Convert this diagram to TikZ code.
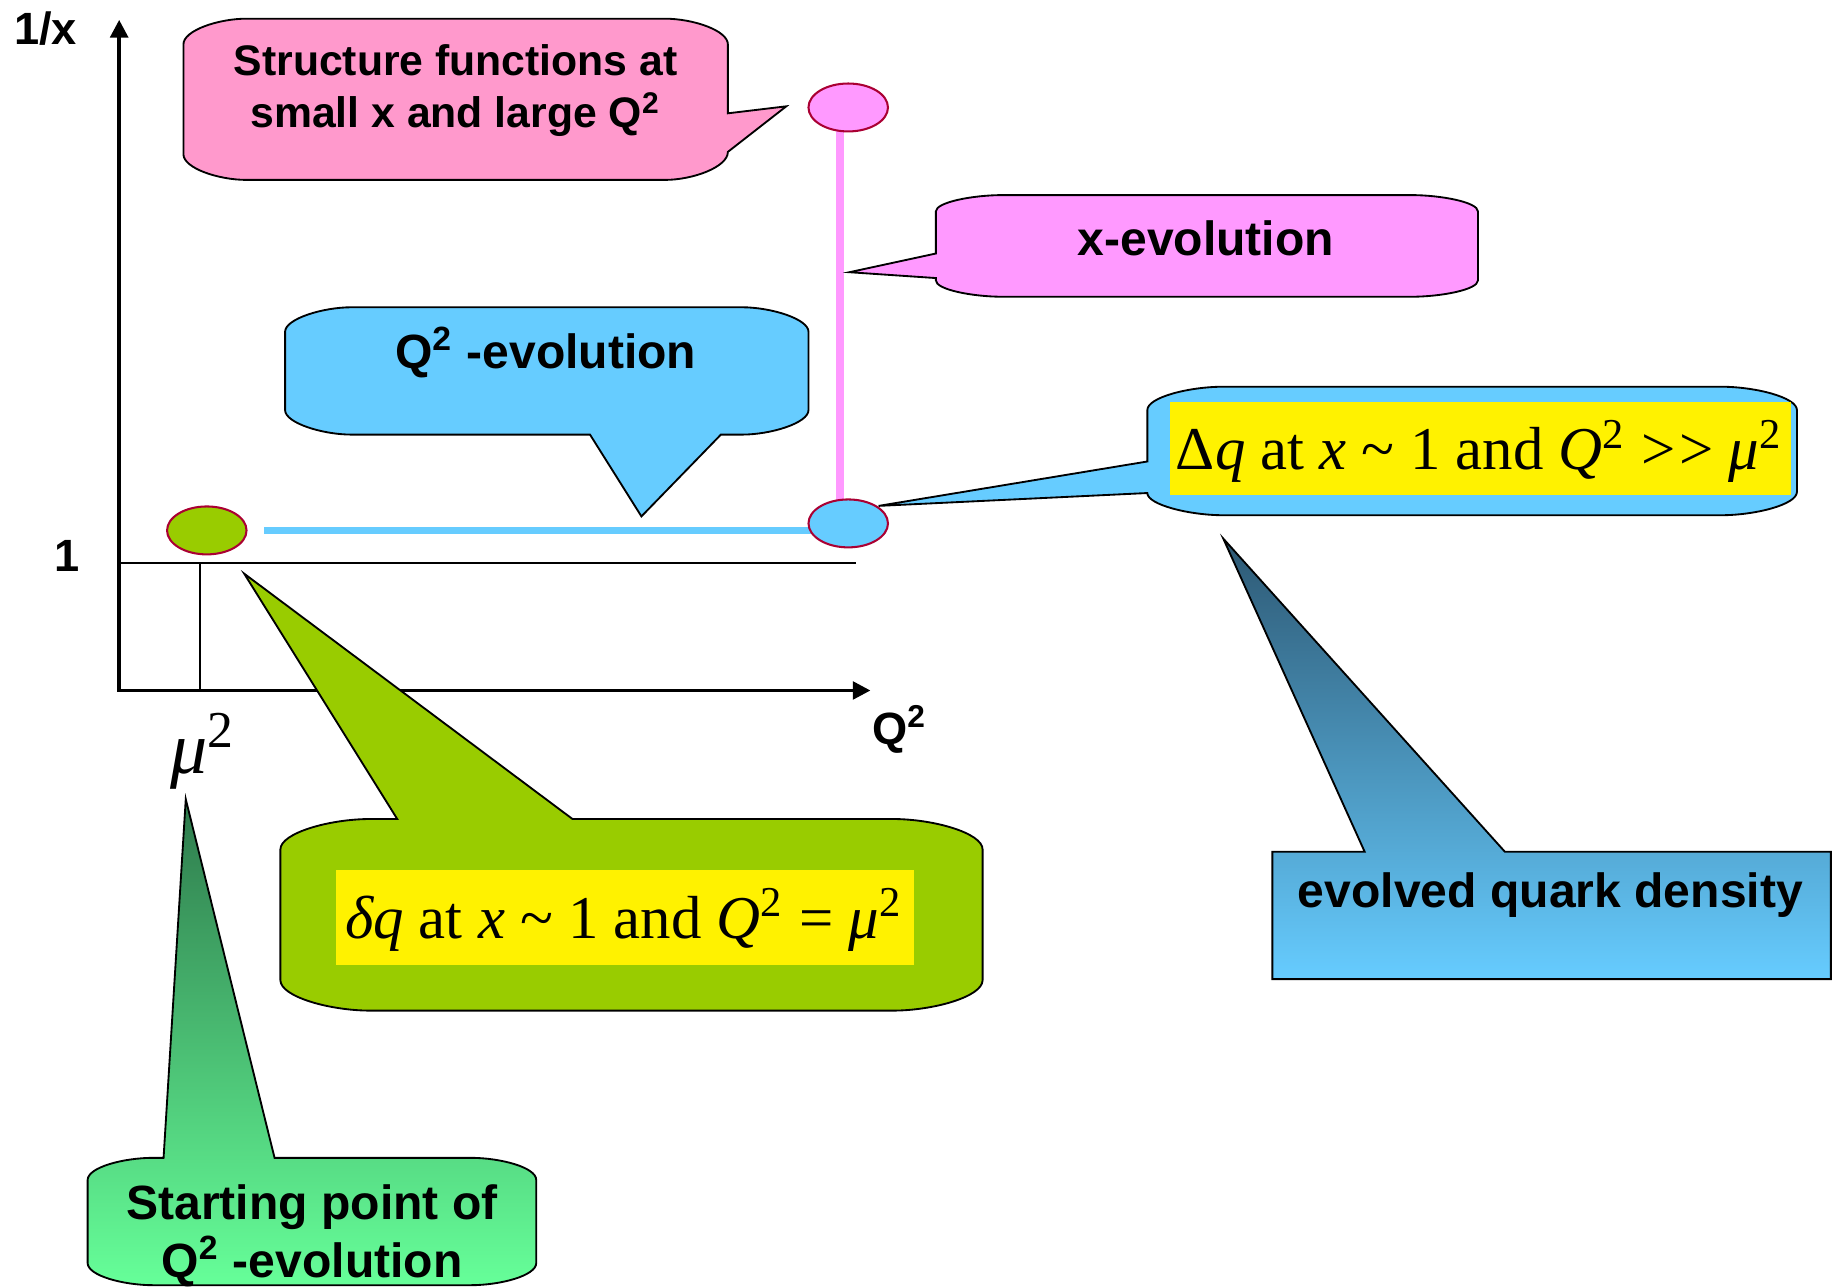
\documentclass[tikz,border=0pt]{standalone}
\usepackage{fontspec}
\setmainfont{Liberation Sans}
\newfontfamily\tmsfont{Liberation Serif}
\usetikzlibrary{arrows.meta,shapes.geometric}
\definecolor{calloutpink}{RGB}{255,153,204}
\definecolor{xpink}{RGB}{255,153,255}
\definecolor{skyblue}{RGB}{102,204,255}
\definecolor{leafgreen}{RGB}{153,204,0}
\definecolor{rimred}{RGB}{170,0,51}
\definecolor{deepgreen}{RGB}{46,122,76}
\definecolor{mintgreen}{RGB}{102,255,153}
\definecolor{deepteal}{RGB}{45,88,115}
\begin{document}
\begin{tikzpicture}[x=0.01cm, y=-0.01cm,
    bubble/.style={draw=black, line width=0.45pt, line join=miter},
    lbl/.style={font=\bfseries\fontsize{11.7}{14}\selectfont, inner sep=0pt, anchor=base},
    formula/.style={font=\tmsfont\fontsize{14.8}{18}\selectfont, inner sep=0pt, anchor=base},
    dot/.style={ellipse, draw=rimred, line width=0.5pt, minimum width=6.8mm, minimum height=4.1mm, inner sep=0pt}]
    \useasboundingbox (0,0) rectangle (1568,1101);
    % Ejes: Q^2 en horizontal y 1/x en vertical.
    \draw[line width=0.9pt, {Triangle[length=4.3pt,width=4.3pt]}-{Triangle[length=4.3pt,width=4.3pt]}] (102,17) -- (102,591) -- (745,591);
    \draw[line width=0.4pt] (102,482) -- (733,482);
    \draw[line width=0.4pt] (171,482) -- (171,591);
    \node[lbl, font=\bfseries\fontsize{11}{13}\selectfont] (yname) at (39,38) {1/x};
    \node[lbl, font=\bfseries\fontsize{11}{13}\selectfont] (one) at (57,489) {1};
    \node[lbl, font=\bfseries\fontsize{11}{13}\selectfont] (xname) at (770,637) {Q\textsuperscript{2}};
    \node[formula, font=\tmsfont\fontsize{18}{20}\selectfont] (mu) at (174,662) {\textit{μ}\textsuperscript{2}};
    \coordinate (q2a) at (226,454);
    \coordinate (q2b) at (700,454);
    \coordinate (xa) at (719,100);
    \coordinate (xb) at (719,436);
    \draw[skyblue, line width=1.8pt] (q2a) -- (q2b);
    \draw[xpink, line width=2pt] (xa) -- (xb);
    \node[dot, fill=leafgreen] (start) at (177,454) {};
    \node[dot, fill=skyblue] (evolved) at (726,448) {};
    \node[dot, fill=xpink] (smallx) at (726,92) {};
    \draw[bubble, fill=calloutpink] (211,16) -- (569,16) .. controls (593,16) and (623,26) .. (623,38) -- (623,97) -- (673,91) -- (623,130) .. controls (623,143) and (593,154) .. (569,154) -- (211,154) .. controls (187,154) and (157,144) .. (157,132) -- (157,38) .. controls (157,26) and (187,16) .. cycle;
    \node[lbl, font=\bfseries\fontsize{10.4}{12.5}\selectfont] (sf1) at (390,65) {Structure functions at};
    \node[lbl, font=\bfseries\fontsize{10.4}{12.5}\selectfont] (sf2) at (390,109.5) {small x and large Q\textsuperscript{2}};
    \draw[bubble, fill=xpink] (858,167) -- (1208,167) .. controls (1233,167) and (1265,173) .. (1265,181) -- (1265,240) .. controls (1265,248) and (1233,254) .. (1208,254) -- (858,254) .. controls (833,254) and (801,248) .. (801,240) -- (801,238) -- (727,233) -- (801,217) -- (801,181) .. controls (801,173) and (833,167) .. cycle;
    \node[lbl] (xevo) at (1032,219) {x-evolution};
    \draw[bubble, fill=skyblue] (301,263) -- (635,263) .. controls (660,263) and (692,273) .. (692,284) -- (692,351) .. controls (692,362) and (660,372) .. (635,372) -- (617,372) -- (549,442) -- (505,372) -- (301,372) .. controls (276,372) and (244,362) .. (244,351) -- (244,284) .. controls (244,273) and (276,263) .. cycle;
    \node[lbl] (qevo) at (467,315) {Q\textsuperscript{2} -evolution};
    \draw[bubble, fill=skyblue] (1047,331) -- (1473,331) .. controls (1502,331) and (1538,340) .. (1538,351) -- (1538,421) .. controls (1538,432) and (1502,441) .. (1473,441) -- (1047,441) .. controls (1018,441) and (982,432) .. (982,422) -- (752,433) -- (982,395) -- (982,351) .. controls (982,340) and (1018,331) .. cycle;
    \fill[yellow] (1001,344) rectangle (1533,424);
    \node[formula] (bigq) at (1266,402) {Δ\textit{q} at \textit{x} \textasciitilde{} 1 and \textit{Q}\textsuperscript{2} >\hspace{0.06em}> \textit{μ}\textsuperscript{2}};
    \draw[bubble, fill=leafgreen] (317,701) -- (340,701) -- (209,491) -- (490,701) -- (764,701) .. controls (799,701) and (841,713) .. (841,727) -- (841,839) .. controls (841,853) and (799,865) .. (764,865) -- (317,865) .. controls (282,865) and (240,853) .. (240,839) -- (240,727) .. controls (240,713) and (282,701) .. cycle;
    \fill[yellow] (288,745) rectangle (782,826);
    \node[formula] (smallq) at (534,803) {\textit{δq} at \textit{x} \textasciitilde{} 1 and \textit{Q}\textsuperscript{2} = \textit{μ}\textsuperscript{2}};
    \draw[bubble, top color=deepgreen, bottom color=mintgreen] (131,991) -- (140,991) -- (159,684) -- (235,991) -- (403,991) .. controls (428,991) and (459,999) .. (459,1010) -- (459,1081) .. controls (459,1092) and (428,1100) .. (403,1100) -- (131,1100) .. controls (106,1100) and (75,1092) .. (75,1081) -- (75,1010) .. controls (75,999) and (106,991) .. cycle;
    \node[lbl] (sp1) at (267,1044) {Starting point of};
    \node[lbl] (sp2) at (267,1093) {Q\textsuperscript{2} -evolution};
    \draw[bubble, top color=deepteal, bottom color=skyblue] (1089,729) -- (1168,729) -- (1047,461) -- (1288,729) -- (1567,729) -- (1567,838) -- (1089,838) -- cycle;
    \node[lbl] (dens) at (1327,777) {evolved quark density};
\end{tikzpicture}
\end{document}
